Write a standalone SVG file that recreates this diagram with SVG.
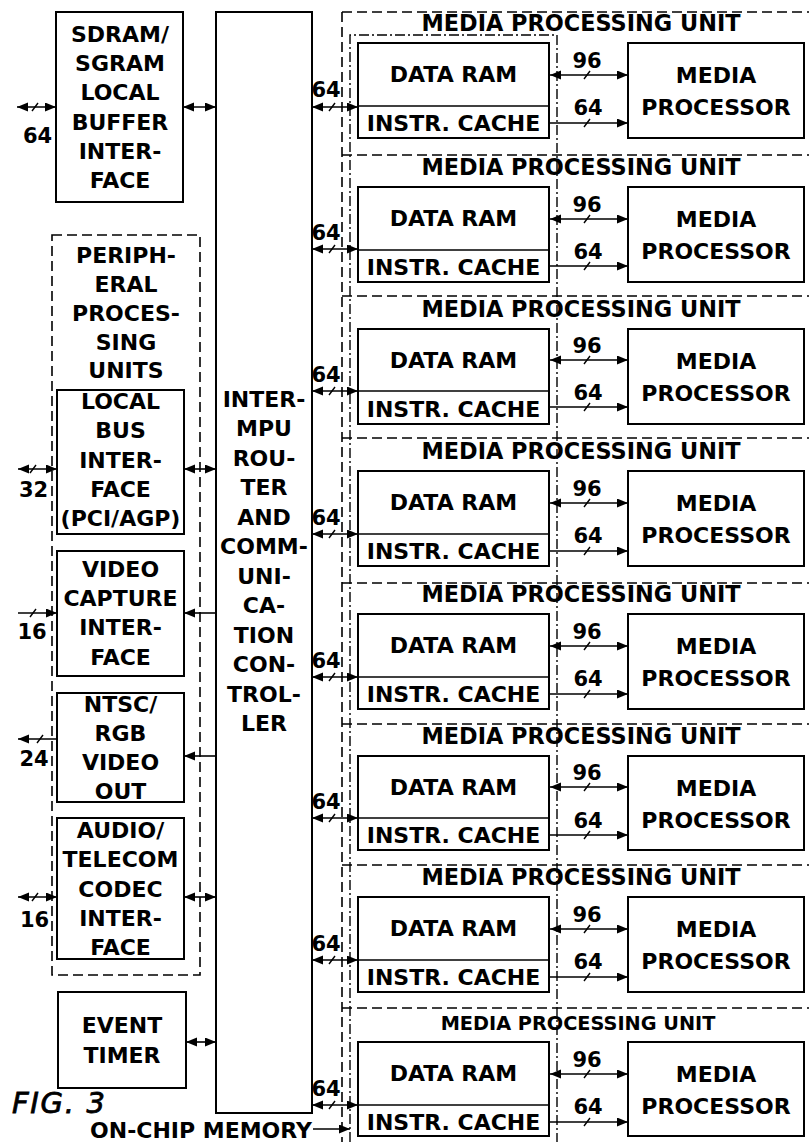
<svg xmlns="http://www.w3.org/2000/svg" width="809" height="1142" viewBox="0 0 809 1142">
<defs>
<marker id="ah" markerUnits="userSpaceOnUse" markerWidth="12" markerHeight="10" refX="11" refY="4.5" orient="auto-start-reverse">
<path d="M0,0 L11,4.5 L0,9 Z" fill="#000"/>
</marker>
<style>
.box{fill:none;stroke:#000;stroke-width:2}
.dash{fill:none;stroke:#000;stroke-width:1.6;stroke-dasharray:10 5}
.dd{fill:none;stroke:#000;stroke-width:1.4;stroke-dasharray:10 3 2 3}
.t{font-family:"DejaVu Sans",sans-serif;font-weight:bold;font-size:22px;text-anchor:middle;fill:#000}
.n{font-size:21px}
.ttl{font-size:22.4px}
.ln{stroke:#000;stroke-width:1.6;fill:none}
.a2{marker-start:url(#ah);marker-end:url(#ah)}
.a1{marker-end:url(#ah)}
.sl{stroke:#000;stroke-width:1.4}
</style>
</defs>
<rect width="809" height="1142" fill="#fff"/>

<!-- enclosures -->
<g id="mpu-frame">
<line class="dash" x1="342" y1="12" x2="342" y2="1142"/>
</g>
<g id="on-chip-memory">
<path class="dd" d="M350,1142 V35 H557 V1142"/>
<text class="t" x="312" y="1138" style="text-anchor:end">ON-CHIP MEMORY</text>
</g>

<g id="sdram">
<rect class="box" x="56" y="12" width="127" height="190"/>
<text class="t" x="120" y="42">SDRAM/</text>
<text class="t" x="120" y="71">SGRAM</text>
<text class="t" x="120" y="100">LOCAL</text>
<text class="t" x="120" y="130">BUFFER</text>
<text class="t" x="120" y="159">INTER-</text>
<text class="t" x="120" y="188">FACE</text>
</g>

<g id="peripheral">
<rect class="dash" x="52" y="235" width="148" height="740"/>
<text class="t" x="126" y="263">PERIPH-</text>
<text class="t" x="126" y="292">ERAL</text>
<text class="t" x="126" y="321">PROCES-</text>
<text class="t" x="126" y="350">SING</text>
<text class="t" x="126" y="378">UNITS</text>
</g>

<g id="local-bus">
<rect class="box" x="57" y="390" width="127" height="144"/>
<text class="t" x="120.5" y="409">LOCAL</text>
<text class="t" x="120.5" y="438">BUS</text>
<text class="t" x="120.5" y="468">INTER-</text>
<text class="t" x="120.5" y="497">FACE</text>
<text class="t" x="120.5" y="526">(PCI/AGP)</text>
</g>

<g id="video-capture">
<rect class="box" x="57" y="551" width="127" height="125"/>
<text class="t" x="120.5" y="577">VIDEO</text>
<text class="t" x="120.5" y="606">CAPTURE</text>
<text class="t" x="120.5" y="635">INTER-</text>
<text class="t" x="120.5" y="665">FACE</text>
</g>

<g id="video-out">
<rect class="box" x="57" y="693" width="127" height="109"/>
<text class="t" x="120.5" y="712">NTSC/</text>
<text class="t" x="120.5" y="741">RGB</text>
<text class="t" x="120.5" y="770">VIDEO</text>
<text class="t" x="120.5" y="799">OUT</text>
</g>

<g id="audio">
<rect class="box" x="57" y="818" width="127" height="141"/>
<text class="t" x="120.5" y="838">AUDIO/</text>
<text class="t" x="120.5" y="867">TELECOM</text>
<text class="t" x="120.5" y="897">CODEC</text>
<text class="t" x="120.5" y="926">INTER-</text>
<text class="t" x="120.5" y="955">FACE</text>
</g>

<g id="event-timer">
<rect class="box" x="58" y="992" width="128" height="96"/>
<text class="t" x="122" y="1033">EVENT</text>
<text class="t" x="122" y="1063">TIMER</text>
</g>

<g id="router">
<rect class="box" x="216" y="12" width="96" height="1101"/>
<text class="t" x="264" y="407">INTER-</text>
<text class="t" x="264" y="436">MPU</text>
<text class="t" x="264" y="466">ROU-</text>
<text class="t" x="264" y="495">TER</text>
<text class="t" x="264" y="525">AND</text>
<text class="t" x="264" y="554">COMM-</text>
<text class="t" x="264" y="584">UNI-</text>
<text class="t" x="264" y="613">CA-</text>
<text class="t" x="264" y="643">TION</text>
<text class="t" x="264" y="672">CON-</text>
<text class="t" x="264" y="702">TROL-</text>
<text class="t" x="264" y="731">LER</text>
</g>

<g id="fig-label">
<text x="12" y="1113" textLength="93" style="font-family:'DejaVu Sans',sans-serif;font-style:italic;font-size:29px;stroke:#000;stroke-width:0.8">FIG. 3</text>
</g>

<!-- MPUs (coordinates relative to Data RAM top) -->
<g id="mpu1" transform="translate(0,43)">
<line class="dash" x1="342" y1="-31" x2="812" y2="-31"/>
<text class="t ttl" x="581" y="-12">MEDIA PROCESSING UNIT</text>
<rect class="box" x="358" y="0" width="191" height="95"/><line class="ln" x1="358" y1="63" x2="549" y2="63"/>
<text class="t" x="453.5" y="39">DATA RAM</text><text class="t" x="453.5" y="88">INSTR. CACHE</text>
<rect class="box" x="628" y="0" width="176" height="95"/>
<text class="t" x="716" y="40">MEDIA</text><text class="t" x="716" y="72">PROCESSOR</text>
</g>
<g id="mpu2" transform="translate(0,187)">
<line class="dash" x1="342" y1="-32" x2="812" y2="-32"/>
<text class="t ttl" x="581" y="-12">MEDIA PROCESSING UNIT</text>
<rect class="box" x="358" y="0" width="191" height="95"/><line class="ln" x1="358" y1="63" x2="549" y2="63"/>
<text class="t" x="453.5" y="39">DATA RAM</text><text class="t" x="453.5" y="88">INSTR. CACHE</text>
<rect class="box" x="628" y="0" width="176" height="95"/>
<text class="t" x="716" y="40">MEDIA</text><text class="t" x="716" y="72">PROCESSOR</text>
</g>
<g id="mpu3" transform="translate(0,329)">
<line class="dash" x1="342" y1="-33" x2="812" y2="-33"/>
<text class="t ttl" x="581" y="-12">MEDIA PROCESSING UNIT</text>
<rect class="box" x="358" y="0" width="191" height="95"/><line class="ln" x1="358" y1="62" x2="549" y2="62"/>
<text class="t" x="453.5" y="39">DATA RAM</text><text class="t" x="453.5" y="88">INSTR. CACHE</text>
<rect class="box" x="628" y="0" width="176" height="95"/>
<text class="t" x="716" y="40">MEDIA</text><text class="t" x="716" y="72">PROCESSOR</text>
</g>
<g id="mpu4" transform="translate(0,471)">
<line class="dash" x1="342" y1="-33" x2="812" y2="-33"/>
<text class="t ttl" x="581" y="-12">MEDIA PROCESSING UNIT</text>
<rect class="box" x="358" y="0" width="191" height="95"/><line class="ln" x1="358" y1="63" x2="549" y2="63"/>
<text class="t" x="453.5" y="39">DATA RAM</text><text class="t" x="453.5" y="88">INSTR. CACHE</text>
<rect class="box" x="628" y="0" width="176" height="95"/>
<text class="t" x="716" y="40">MEDIA</text><text class="t" x="716" y="72">PROCESSOR</text>
</g>
<g id="mpu5" transform="translate(0,614)">
<line class="dash" x1="342" y1="-31" x2="812" y2="-31"/>
<text class="t ttl" x="581" y="-12">MEDIA PROCESSING UNIT</text>
<rect class="box" x="358" y="0" width="191" height="95"/><line class="ln" x1="358" y1="63" x2="549" y2="63"/>
<text class="t" x="453.5" y="39">DATA RAM</text><text class="t" x="453.5" y="88">INSTR. CACHE</text>
<rect class="box" x="628" y="0" width="176" height="95"/>
<text class="t" x="716" y="40">MEDIA</text><text class="t" x="716" y="72">PROCESSOR</text>
</g>
<g id="mpu6" transform="translate(0,756)">
<line class="dash" x1="342" y1="-32" x2="812" y2="-32"/>
<text class="t ttl" x="581" y="-12">MEDIA PROCESSING UNIT</text>
<rect class="box" x="358" y="0" width="191" height="94"/><line class="ln" x1="358" y1="62" x2="549" y2="62"/>
<text class="t" x="453.5" y="39">DATA RAM</text><text class="t" x="453.5" y="87">INSTR. CACHE</text>
<rect class="box" x="628" y="0" width="176" height="94"/>
<text class="t" x="716" y="40">MEDIA</text><text class="t" x="716" y="72">PROCESSOR</text>
</g>
<g id="mpu7" transform="translate(0,897)">
<line class="dash" x1="342" y1="-32" x2="812" y2="-32"/>
<text class="t ttl" x="581" y="-12">MEDIA PROCESSING UNIT</text>
<rect class="box" x="358" y="0" width="191" height="95"/><line class="ln" x1="358" y1="63" x2="549" y2="63"/>
<text class="t" x="453.5" y="39">DATA RAM</text><text class="t" x="453.5" y="88">INSTR. CACHE</text>
<rect class="box" x="628" y="0" width="176" height="95"/>
<text class="t" x="716" y="40">MEDIA</text><text class="t" x="716" y="72">PROCESSOR</text>
</g>
<g id="mpu8" transform="translate(0,1042)">
<line class="dash" x1="342" y1="-34" x2="812" y2="-34"/>
<text class="t" x="578" y="-12" style="font-size:19.3px">MEDIA PROCESSING UNIT</text>
<rect class="box" x="358" y="0" width="191" height="94"/><line class="ln" x1="358" y1="63" x2="549" y2="63"/>
<text class="t" x="453.5" y="39">DATA RAM</text><text class="t" x="453.5" y="88">INSTR. CACHE</text>
<rect class="box" x="628" y="0" width="176" height="94"/>
<text class="t" x="716" y="40">MEDIA</text><text class="t" x="716" y="72">PROCESSOR</text>
</g>

<g id="connectors">
<!-- left side -->
<line class="ln a2" x1="17" y1="107" x2="56" y2="107"/><line class="sl" x1="32" y1="111" x2="38" y2="103"/>
<text class="t n" x="37.5" y="143">64</text>
<line class="ln a2" x1="183" y1="107" x2="216" y2="107"/>
<line class="ln a2" x1="18" y1="469" x2="57" y2="469"/><line class="sl" x1="30" y1="473" x2="36" y2="465"/>
<text class="t n" x="33.5" y="497">32</text>
<line class="ln a2" x1="184" y1="469" x2="216" y2="469"/>
<line class="ln a1" x1="18" y1="613" x2="57" y2="613"/><line class="sl" x1="30" y1="617" x2="36" y2="609"/>
<text class="t n" x="32" y="639">16</text>
<line class="ln a1" x1="216" y1="613" x2="184" y2="613"/>
<line class="ln a1" x1="57" y1="739" x2="18" y2="739"/><line class="sl" x1="37" y1="743" x2="43" y2="735"/>
<text class="t n" x="34" y="766">24</text>
<line class="ln a1" x1="216" y1="756" x2="184" y2="756"/>
<line class="ln a2" x1="18" y1="897" x2="57" y2="897"/><line class="sl" x1="32" y1="901" x2="38" y2="893"/>
<text class="t n" x="34.5" y="927">16</text>
<line class="ln a2" x1="184" y1="897" x2="216" y2="897"/>
<line class="ln a2" x1="186" y1="1042" x2="216" y2="1042"/>
<line class="ln a1" x1="313" y1="1129" x2="350" y2="1129"/>
<!-- MPU connectors -->
<g transform="translate(0,43)">
<line class="ln a2" x1="312" y1="64" x2="358" y2="64"/><line class="sl" x1="329" y1="68" x2="335" y2="60"/><text class="t n" x="326" y="54">64</text>
<line class="ln a2" x1="550" y1="32" x2="628" y2="32"/><line class="sl" x1="584" y1="36" x2="590" y2="28"/><text class="t n" x="587" y="25">96</text>
<line class="ln a1" x1="549" y1="80" x2="628" y2="80"/><line class="sl" x1="584" y1="84" x2="590" y2="76"/><text class="t n" x="588" y="72">64</text>
</g>
<g transform="translate(0,187)">
<line class="ln a2" x1="312" y1="62" x2="358" y2="62"/><line class="sl" x1="329" y1="66" x2="335" y2="58"/><text class="t n" x="326" y="53">64</text>
<line class="ln a2" x1="550" y1="32" x2="628" y2="32"/><line class="sl" x1="584" y1="36" x2="590" y2="28"/><text class="t n" x="587" y="25">96</text>
<line class="ln a1" x1="549" y1="79" x2="628" y2="79"/><line class="sl" x1="584" y1="83" x2="590" y2="75"/><text class="t n" x="588" y="72">64</text>
</g>
<g transform="translate(0,329)">
<line class="ln a2" x1="312" y1="62" x2="358" y2="62"/><line class="sl" x1="329" y1="66" x2="335" y2="58"/><text class="t n" x="326" y="53">64</text>
<line class="ln a2" x1="550" y1="31" x2="628" y2="31"/><line class="sl" x1="584" y1="35" x2="590" y2="27"/><text class="t n" x="587" y="24">96</text>
<line class="ln a1" x1="549" y1="78" x2="628" y2="78"/><line class="sl" x1="584" y1="82" x2="590" y2="74"/><text class="t n" x="588" y="71">64</text>
</g>
<g transform="translate(0,471)">
<line class="ln a2" x1="312" y1="63" x2="358" y2="63"/><line class="sl" x1="329" y1="67" x2="335" y2="59"/><text class="t n" x="326" y="54">64</text>
<line class="ln a2" x1="550" y1="32" x2="628" y2="32"/><line class="sl" x1="584" y1="36" x2="590" y2="28"/><text class="t n" x="587" y="25">96</text>
<line class="ln a1" x1="549" y1="80" x2="628" y2="80"/><line class="sl" x1="584" y1="84" x2="590" y2="76"/><text class="t n" x="588" y="72">64</text>
</g>
<g transform="translate(0,614)">
<line class="ln a2" x1="312" y1="63" x2="358" y2="63"/><line class="sl" x1="329" y1="67" x2="335" y2="59"/><text class="t n" x="326" y="54">64</text>
<line class="ln a2" x1="550" y1="32" x2="628" y2="32"/><line class="sl" x1="584" y1="36" x2="590" y2="28"/><text class="t n" x="587" y="25">96</text>
<line class="ln a1" x1="549" y1="80" x2="628" y2="80"/><line class="sl" x1="584" y1="84" x2="590" y2="76"/><text class="t n" x="588" y="72">64</text>
</g>
<g transform="translate(0,756)">
<line class="ln a2" x1="312" y1="62" x2="358" y2="62"/><line class="sl" x1="329" y1="66" x2="335" y2="58"/><text class="t n" x="326" y="53">64</text>
<line class="ln a2" x1="550" y1="31" x2="628" y2="31"/><line class="sl" x1="584" y1="35" x2="590" y2="27"/><text class="t n" x="587" y="24">96</text>
<line class="ln a1" x1="549" y1="79" x2="628" y2="79"/><line class="sl" x1="584" y1="83" x2="590" y2="75"/><text class="t n" x="588" y="72">64</text>
</g>
<g transform="translate(0,897)">
<line class="ln a2" x1="312" y1="63" x2="358" y2="63"/><line class="sl" x1="329" y1="67" x2="335" y2="59"/><text class="t n" x="326" y="54">64</text>
<line class="ln a2" x1="550" y1="32" x2="628" y2="32"/><line class="sl" x1="584" y1="36" x2="590" y2="28"/><text class="t n" x="587" y="25">96</text>
<line class="ln a1" x1="549" y1="80" x2="628" y2="80"/><line class="sl" x1="584" y1="84" x2="590" y2="76"/><text class="t n" x="588" y="72">64</text>
</g>
<g transform="translate(0,1042)">
<line class="ln a2" x1="312" y1="63" x2="358" y2="63"/><line class="sl" x1="329" y1="67" x2="335" y2="59"/><text class="t n" x="326" y="54">64</text>
<line class="ln a2" x1="550" y1="32" x2="628" y2="32"/><line class="sl" x1="584" y1="36" x2="590" y2="28"/><text class="t n" x="587" y="25">96</text>
<line class="ln a1" x1="549" y1="80" x2="628" y2="80"/><line class="sl" x1="584" y1="84" x2="590" y2="76"/><text class="t n" x="588" y="72">64</text>
</g>
</g>
</svg>
